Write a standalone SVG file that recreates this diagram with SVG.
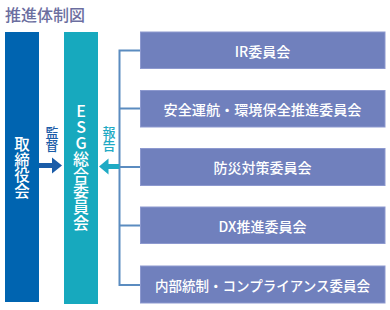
<svg xmlns="http://www.w3.org/2000/svg" width="390" height="310" viewBox="0 0 390 310">
<style>
text{font-family:"Noto Sans CJK JP","Noto Sans",sans-serif;font-weight:500;}
.v{writing-mode:vertical-rl;text-orientation:upright;text-anchor:middle;}
.w{fill:#fff;}
.c{fill:#fff;font-size:14px;text-anchor:middle;dominant-baseline:central;}
.cb{fill:#7080bd;stroke:#8d99cf;stroke-width:1;}
.br{stroke:#5b8cc0;stroke-width:2;fill:none;}
</style>
<rect width="390" height="310" fill="#fff"/>
<text x="5" y="13.5" font-size="16" fill="#6b6e9f" dominant-baseline="central">推進体制図</text>

<g id="board">
<rect x="5" y="32" width="34" height="270" fill="#0064b0"/>
<text class="v w" x="22" y="167.5" font-size="15.5">取締役会</text>
</g>

<g id="esg">
<rect x="64" y="32" width="34" height="272" fill="#17a9be"/>
<text class="v w" x="81" y="167" font-size="16">ESG総合委員会</text>
</g>

<g id="c1"><rect class="cb" x="140.5" y="32" width="244.5" height="36.5"/><text class="c" x="262.5" y="50.5">IR委員会</text></g>
<g id="c2"><rect class="cb" x="140.5" y="90.5" width="244.5" height="36.5"/><text class="c" x="262.5" y="108.5" textLength="198" lengthAdjust="spacingAndGlyphs">安全運航・環境保全推進委員会</text></g>
<g id="c3"><rect class="cb" x="140.5" y="148.5" width="244.5" height="37"/><text class="c" x="262.5" y="167">防災対策委員会</text></g>
<g id="c4"><rect class="cb" x="140.5" y="207" width="244.5" height="36.5"/><text class="c" x="262.5" y="225.5">DX推進委員会</text></g>
<g id="c5"><rect class="cb" x="140.5" y="266" width="244.5" height="37"/><text class="c" x="262.5" y="284.5" textLength="215" lengthAdjust="spacingAndGlyphs">内部統制・コンプライアンス委員会</text></g>

<g id="connectors">
<path class="br" d="M140 50.5H119.5V285H140M119.5 108.5H140M119.5 167H140M119.5 225.5H140"/>
<rect x="39" y="163" width="14" height="5" fill="#1a5ca8"/>
<polygon points="52,157.5 62,165.5 52,173.5" fill="#1a5ca8"/>
<rect x="107" y="164" width="12.5" height="5" fill="#1faac4"/>
<polygon points="108.5,158.5 99,166.5 108.5,174.5" fill="#1faac4"/>
<text class="v" x="52" y="139" font-size="13" fill="#1a5ca8">監督</text>
<text class="v" x="109" y="139" font-size="13" fill="#1faac4">報告</text>
</g>
</svg>
